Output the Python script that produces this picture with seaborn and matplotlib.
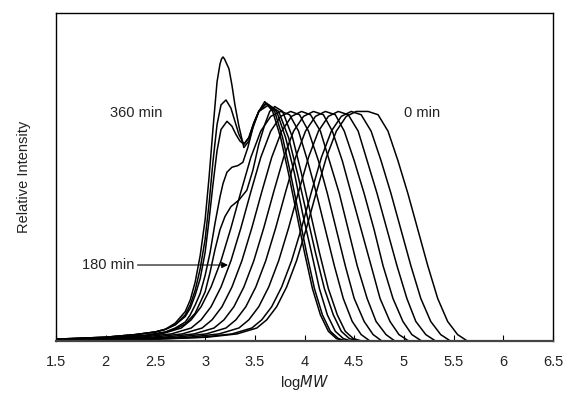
import matplotlib
matplotlib.use("Agg")
import numpy as np
import pandas as pd
import matplotlib.pyplot as plt
import seaborn as sns

# GPC traces: logMW vs relative intensity, one curve per sampling time

times = [0, 30, 60, 90, 120, 150, 180, 210, 240, 270, 300, 330, 360]

tick_vals = [1.5, 2, 2.5, 3, 3.5, 4, 4.5, 5, 5.5, 6, 6.5]
tick_labels = ["1.5", "2", "2.5", "3", "3.5", "4", "4.5", "5", "5.5", "6", "6.5"]

# intensity readings shared by the single-peak traces (30-210 min)
y_single = [0.003, 0.006, 0.012, 0.022, 0.040, 0.065, 0.105, 0.165, 0.245, 0.345, 0.455, 0.560, 0.640, 0.685,
            0.700, 0.690, 0.640, 0.550, 0.450, 0.340, 0.230, 0.130, 0.060, 0.020, 0.000]

x_000 = [1.5, 2.52, 3.02, 3.32, 3.52, 3.62, 3.72, 3.82, 3.92, 4.02, 4.12, 4.22, 4.32, 4.42, 4.52,
         4.64, 4.74, 4.84, 4.94, 5.04, 5.14, 5.24, 5.34, 5.44, 5.54, 5.64]
y_000 = [0.002, 0.006, 0.012, 0.022, 0.040, 0.065, 0.105, 0.165, 0.245, 0.345, 0.455, 0.560, 0.640, 0.685, 0.700,
         0.700, 0.690, 0.640, 0.550, 0.450, 0.340, 0.230, 0.130, 0.060, 0.020, 0.000]

x_030 = [1.5, 2.47, 2.97, 3.27, 3.47, 3.57, 3.67, 3.77, 3.87, 3.97, 4.07, 4.17, 4.27, 4.37, 4.47,
         4.57, 4.67, 4.77, 4.87, 4.97, 5.07, 5.17, 5.27, 5.37, 5.47]
x_060 = [1.5, 2.34, 2.84, 3.14, 3.34, 3.44, 3.54, 3.64, 3.74, 3.84, 3.94, 4.04, 4.14, 4.24, 4.34,
         4.44, 4.54, 4.63, 4.73, 4.83, 4.93, 5.03, 5.12, 5.22, 5.32]
x_090 = [1.5, 2.21, 2.71, 3.01, 3.21, 3.31, 3.41, 3.51, 3.61, 3.71, 3.81, 3.91, 4.01, 4.11, 4.21,
         4.31, 4.40, 4.50, 4.60, 4.70, 4.79, 4.89, 4.99, 5.08, 5.18]
x_120 = [1.5, 2.09, 2.59, 2.89, 3.09, 3.19, 3.29, 3.39, 3.49, 3.59, 3.69, 3.79, 3.89, 3.99, 4.09,
         4.19, 4.28, 4.38, 4.47, 4.57, 4.67, 4.76, 4.86, 4.95, 5.05]
x_150 = [1.5, 1.97, 2.47, 2.77, 2.97, 3.07, 3.17, 3.27, 3.37, 3.47, 3.57, 3.67, 3.77, 3.87, 3.97,
         4.06, 4.16, 4.25, 4.35, 4.44, 4.53, 4.63, 4.72, 4.82, 4.91]
x_180 = [1.5, 1.86, 2.36, 2.66, 2.86, 2.96, 3.06, 3.16, 3.26, 3.36, 3.46, 3.56, 3.66, 3.76, 3.86,
         3.95, 4.04, 4.14, 4.23, 4.32, 4.41, 4.50, 4.60, 4.69, 4.78]
x_210 = [1.5, 1.76, 2.26, 2.56, 2.76, 2.86, 2.96, 3.06, 3.16, 3.26, 3.36, 3.46, 3.56, 3.66, 3.76,
         3.85, 3.94, 4.03, 4.12, 4.21, 4.30, 4.39, 4.48, 4.57, 4.66]

x_240 = [1.5, 2.0, 2.4, 2.6, 2.7, 2.8, 2.9, 3.0, 3.05, 3.1, 3.15, 3.2, 3.26, 3.34, 3.42, 3.48, 3.54, 3.6,
         3.65, 3.70, 3.78, 3.88, 3.97, 4.06, 4.15, 4.24, 4.33, 4.41, 4.49, 4.58]
y_240 = [0.004, 0.009, 0.017, 0.027, 0.037, 0.052, 0.085, 0.15, 0.21, 0.28, 0.34, 0.38, 0.41, 0.43, 0.46, 0.52,
         0.60, 0.66, 0.70, 0.715, 0.70, 0.62, 0.51, 0.39, 0.27, 0.16, 0.08, 0.03, 0.008, 0.0]

x_270 = [1.5, 2.0, 2.4, 2.6, 2.7, 2.8, 2.85, 2.9, 2.95, 3.0, 3.05, 3.1, 3.15, 3.18, 3.22, 3.27, 3.33, 3.38,
         3.43, 3.48, 3.54, 3.64, 3.74, 3.84, 3.93, 4.02, 4.11, 4.20, 4.29, 4.37, 4.45, 4.54]
y_270 = [0.005, 0.01, 0.018, 0.028, 0.04, 0.058, 0.08, 0.11, 0.145, 0.20, 0.27, 0.36, 0.44, 0.48, 0.515, 0.53,
         0.535, 0.545, 0.59, 0.65, 0.70, 0.72, 0.70, 0.62, 0.51, 0.39, 0.27, 0.16, 0.08, 0.03, 0.008, 0.0]

x_300 = [1.5, 2.0, 2.3, 2.5, 2.6, 2.7, 2.8, 2.85, 2.9, 2.95, 3.0, 3.04, 3.08, 3.12, 3.16, 3.22, 3.27, 3.31,
         3.35, 3.39, 3.44, 3.49, 3.54, 3.62, 3.72, 3.81, 3.90, 3.98, 4.07, 4.15, 4.23, 4.31, 4.39, 4.47]
y_300 = [0.006, 0.012, 0.02, 0.028, 0.036, 0.05, 0.075, 0.10, 0.14, 0.19, 0.27, 0.37, 0.48, 0.58, 0.645, 0.67,
         0.655, 0.63, 0.61, 0.60, 0.62, 0.665, 0.70, 0.725, 0.70, 0.62, 0.51, 0.39, 0.27, 0.16, 0.08, 0.03,
         0.008, 0.0]

x_330 = [1.5, 2.0, 2.3, 2.5, 2.6, 2.7, 2.8, 2.85, 2.9, 2.95, 3.0, 3.04, 3.08, 3.12, 3.16, 3.21, 3.26, 3.30,
         3.34, 3.39, 3.44, 3.49, 3.54, 3.61, 3.70, 3.78, 3.86, 3.94, 4.02, 4.10, 4.18, 4.26, 4.34, 4.42]
y_330 = [0.006, 0.012, 0.02, 0.028, 0.036, 0.05, 0.08, 0.11, 0.155, 0.22, 0.31, 0.42, 0.55, 0.66, 0.72, 0.735,
         0.71, 0.67, 0.63, 0.60, 0.62, 0.665, 0.70, 0.725, 0.70, 0.62, 0.51, 0.39, 0.27, 0.16, 0.08, 0.03,
         0.008, 0.0]

x_360 = [1.5, 2.0, 2.3, 2.5, 2.6, 2.7, 2.8, 2.85, 2.9, 2.95, 3.0, 3.04, 3.08, 3.12, 3.15, 3.165, 3.18, 3.195,
         3.21, 3.24, 3.27, 3.30, 3.34, 3.39, 3.44, 3.49, 3.54, 3.60, 3.68, 3.76, 3.84, 3.92, 4.0, 4.08, 4.16,
         4.24, 4.32, 4.4]
y_360 = [0.006, 0.012, 0.02, 0.028, 0.036, 0.055, 0.09, 0.125, 0.18, 0.26, 0.37, 0.50, 0.65, 0.79, 0.845, 0.86,
         0.866, 0.86, 0.85, 0.83, 0.78, 0.72, 0.655, 0.59, 0.61, 0.66, 0.70, 0.73, 0.70, 0.62, 0.51, 0.39, 0.27,
         0.16, 0.08, 0.03, 0.008, 0.0]

curves = {
    0: (x_000, y_000), 30: (x_030, y_single), 60: (x_060, y_single), 90: (x_090, y_single),
    120: (x_120, y_single), 150: (x_150, y_single), 180: (x_180, y_single), 210: (x_210, y_single),
    240: (x_240, y_240), 270: (x_270, y_270), 300: (x_300, y_300), 330: (x_330, y_330), 360: (x_360, y_360),
}

frames = []
for t in times:
    xs, ys = curves[t]
    frames.append(pd.DataFrame({"logMW": xs, "intensity": ys, "time": t}))
df = pd.concat(frames, ignore_index=True)

sns.set_theme(style="white")
plt.rcParams["font.family"] = ["Liberation Sans", "DejaVu Sans"]

fig = plt.figure(figsize=(5.67, 4.13), dpi=100)
ax = fig.add_axes([0.0988, 0.174, 0.8765, 0.7945])

sns.lineplot(data=df, x="logMW", y="intensity", units="time", estimator=None, sort=False,
             color="black", linewidth=1.1, ax=ax)

ax.set_xlim(1.5, 6.5)
ax.set_ylim(0, 1)
ax.set_xticks(tick_vals)
ax.set_xticklabels(tick_labels, fontsize=10.5, color="#222222")
ax.set_yticks([])
ax.tick_params(axis="x", direction="in", length=4, width=0.8, color="black", pad=10, bottom=True)

for side in ["left", "right", "top"]:
    ax.spines[side].set_color("black")
    ax.spines[side].set_linewidth(1.0)
ax.spines["bottom"].set_color("#444444")
ax.spines["bottom"].set_linewidth(1.6)

ax.set_xlabel("log$\\mathit{MW}$", fontsize=10.5, color="#222222", labelpad=3)
ax.set_ylabel("Relative Intensity", fontsize=10.5, color="#222222", labelpad=18)

ax.text(2.04, 0.695, "360 min", fontsize=10.5, va="center", ha="left", color="#222222")
ax.text(5.0, 0.695, "0 min", fontsize=10.5, va="center", ha="left", color="#222222")
ax.annotate("180 min", xy=(3.23, 0.232), xytext=(1.76, 0.232), fontsize=10.5, va="center", ha="left",
            color="#222222",
            arrowprops=dict(arrowstyle="-|>", color="black", lw=0.8, shrinkA=0, shrinkB=0,
                            mutation_scale=9))

fig.savefig("out.png", dpi=100)
